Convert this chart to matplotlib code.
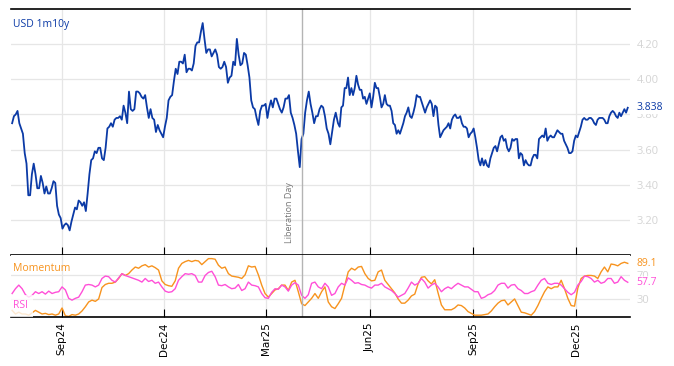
import matplotlib
matplotlib.use('Agg')
import matplotlib.pyplot as plt
import matplotlib.dates as mdates
import pandas as pd

plt.rcParams['font.family'] = ['Open Sans', 'DejaVu Sans']

# USD 1m10y swap rate (two stretches, split around early May 2025)
usd_a = [3.75, 3.79, 3.80, 3.82, 3.75, 3.72, 3.69, 3.58, 3.52, 3.34,
         3.34, 3.46, 3.52, 3.46, 3.38, 3.38, 3.45, 3.41, 3.35, 3.39,
         3.35, 3.35, 3.38, 3.42, 3.41, 3.28, 3.23, 3.21, 3.15, 3.17,
         3.18, 3.17, 3.14, 3.19, 3.23, 3.27, 3.26, 3.31, 3.30, 3.28,
         3.30, 3.25, 3.35, 3.46, 3.54, 3.55, 3.59, 3.58, 3.61, 3.61,
         3.55, 3.54, 3.61, 3.72, 3.73, 3.75, 3.73, 3.77, 3.78, 3.78,
         3.79, 3.77, 3.85, 3.81, 3.75, 3.93, 3.83, 3.82, 3.83, 3.93,
         3.93, 3.92, 3.90, 3.89, 3.91, 3.84, 3.78, 3.83, 3.78, 3.77,
         3.70, 3.74, 3.71, 3.69, 3.67, 3.73, 3.78, 3.88, 3.90, 3.91,
         3.99, 4.06, 4.03, 4.10, 4.10, 4.09, 4.14, 4.04, 4.06, 4.06,
         4.05, 4.09, 4.19, 4.21, 4.21, 4.27, 4.32, 4.23, 4.15, 4.17,
         4.17, 4.13, 4.15, 4.17, 4.14, 4.07, 4.06, 4.07, 4.10, 4.07,
         3.98, 4.01, 4.02, 4.10, 4.08, 4.23, 4.14, 4.08, 4.09, 4.15,
         4.14, 4.08, 4.01, 3.88, 3.84, 3.83, 3.78, 3.74, 3.82, 3.85,
         3.85, 3.86, 3.78, 3.84, 3.88, 3.84, 3.89, 3.89, 3.86, 3.83,
         3.81, 3.84, 3.89, 3.89, 3.91, 3.81, 3.78, 3.74, 3.69, 3.59,
         3.50, 3.66, 3.69, 3.81, 3.88, 3.93, 3.86, 3.81, 3.75, 3.79,
         3.79, 3.83, 3.85, 3.84, 3.79, 3.72, 3.69, 3.63, 3.70, 3.77,
         3.81]
usd_b = [3.75, 3.73, 3.84, 3.85, 3.95, 3.95, 4.01, 3.91, 3.95, 3.91,
         3.95, 4.02, 3.97, 3.94, 3.94, 3.89, 3.90, 3.86, 3.89, 3.92,
         3.84, 3.90, 3.98, 3.95, 3.95, 3.90, 3.84, 3.86, 3.91, 3.86,
         3.85, 3.85, 3.82, 3.75, 3.74, 3.69, 3.71, 3.69, 3.72, 3.75,
         3.79, 3.81, 3.84, 3.79, 3.78, 3.81, 3.85, 3.91, 3.90, 3.90,
         3.87, 3.84, 3.81, 3.84, 3.86, 3.88, 3.86, 3.79, 3.85, 3.84,
         3.74, 3.67, 3.69, 3.71, 3.72, 3.73, 3.75, 3.72, 3.77, 3.79,
         3.80, 3.78, 3.78, 3.79, 3.75, 3.73, 3.73, 3.72, 3.67, 3.69,
         3.70, 3.72, 3.67, 3.61, 3.54, 3.51, 3.55, 3.51, 3.54, 3.51,
         3.50, 3.55, 3.58, 3.61, 3.62, 3.59, 3.63, 3.67, 3.68, 3.65,
         3.66, 3.61, 3.59, 3.61, 3.66, 3.65, 3.66, 3.66, 3.55, 3.58,
         3.57, 3.51, 3.54, 3.52, 3.51, 3.51, 3.55, 3.57, 3.57, 3.55,
         3.66, 3.67, 3.68, 3.67, 3.72, 3.65, 3.67, 3.68, 3.67, 3.67,
         3.69, 3.71, 3.70, 3.69, 3.69, 3.65, 3.63, 3.61, 3.58, 3.58,
         3.59, 3.65, 3.68, 3.67, 3.70, 3.73, 3.77, 3.78, 3.77, 3.77,
         3.78, 3.78, 3.77, 3.75, 3.74, 3.77, 3.78, 3.78, 3.78, 3.77,
         3.75, 3.75, 3.79, 3.81, 3.82, 3.81, 3.79, 3.78, 3.81, 3.79,
         3.81, 3.83, 3.81, 3.838]

momentum = [11, 5, 8, 5, 5, 3, 7, 11, 8, 5, 6, 4, 5, 3, 5, 15, 2, 1, 4, 3,
            5, 10, 17, 25, 28, 26, 30, 49, 54, 56, 56, 58, 64, 72, 69, 72, 78, 83, 81, 85,
            87, 83, 85, 82, 78, 60, 54, 52, 51, 60, 81, 89, 92, 94, 92, 94, 93, 87, 92, 97,
            97, 96, 86, 81,
            83, 72, 68, 67, 66, 64, 70, 85, 83, 84, 70, 53, 39, 33, 39, 45, 47, 53, 53, 44,
            58, 61, 42, 22, 19, 25, 31, 39, 31, 42, 50, 25, 17, 14, 22, 31, 53, 75, 81, 78,
            83, 84, 72, 64, 60, 61, 75, 78, 61, 54, 47, 40, 30, 23, 23, 28, 35, 38, 55, 66,
            67, 60, 55,
            62, 40, 20, 12, 12, 12, 15, 20, 19, 15, 9, 6, 3, 3, 3, 4, 5, 10, 17, 23,
            27, 28, 20, 25, 30, 19, 8, 7, 5, 3, 9, 19, 31, 42, 50, 47, 50, 50, 61, 47,
            31, 19, 18, 48, 64, 68, 69, 69, 68, 64, 75, 83, 75, 88, 87, 85, 89, 91, 89.1]
rsi = [39, 47, 53, 47, 37, 33, 36, 42, 39, 42, 38, 43, 39, 41, 42, 50, 45, 31, 28, 31,
       33, 42, 53, 54, 53, 50, 53, 64, 68, 67, 61, 58, 65, 72, 69, 67, 65, 63, 61, 58,
       64, 59, 61, 56, 58, 50, 43, 41, 42, 47, 61, 67, 72, 71, 72, 69, 58, 58, 69, 74,
       76, 67, 53, 52,
       54, 50, 47, 48, 54, 44, 47, 58, 53, 52, 50, 39, 32, 31, 41, 47, 46, 53, 50, 43,
       53, 57, 53, 36, 31, 37, 56, 58, 50, 47, 56, 50, 36, 39, 50, 56, 53, 65, 61, 56,
       57, 54, 53, 50, 48, 53, 53, 56, 50, 47, 44, 39, 33, 36, 39, 48, 58, 53, 56, 64,
       58, 48, 53,
       56, 50, 42, 47, 50, 47, 52, 56, 53, 50, 50, 46, 42, 42, 31, 33, 37, 39, 44, 53,
       56, 56, 48, 53, 54, 47, 44, 39, 39, 42, 44, 53, 61, 64, 56, 54, 56, 56, 53, 47,
       41, 37, 41, 53, 59, 68, 67, 64, 58, 61, 56, 58, 64, 64, 56, 58, 67, 61, 57.7]

month_ticks = ['2024-09-01', '2024-12-01', '2025-03-01', '2025-06-01', '2025-09-01', '2025-12-01']
liberation_day = pd.Timestamp('2025-04-02')

blue = '#0b3aa6'
orange = '#f7931e'
pink = '#ff4fd8'
grid_c = '#e6e6e6'
lab_c = '#d4d4d4'

dates_a = pd.date_range('2024-07-19', '2025-05-02', periods=len(usd_a))
dates_b = pd.date_range('2025-05-04', '2026-01-16', periods=len(usd_b))
ind_dates = pd.date_range('2024-07-19', '2026-01-16', periods=len(rsi))

fig = plt.figure(figsize=(6.74, 3.66), dpi=100)
ax = fig.add_axes([11 / 674, 1 - 255 / 366, 619 / 674, 246 / 366])
ax2 = fig.add_axes([11 / 674, 1 - 317 / 366, 619 / 674, 62 / 366], sharex=ax)

# main panel
ax.plot(list(dates_a) + list(dates_b), usd_a + usd_b, color=blue, lw=1.3)
ax.set_ylim(3.0, 4.4)
ax.set_yticks([3.2, 3.4, 3.6, 3.8, 4.0, 4.2])
ax.yaxis.set_major_formatter(matplotlib.ticker.FormatStrFormatter('%.2f'))
ax.yaxis.tick_right()
ax.tick_params(axis='y', length=0, labelcolor=lab_c, labelsize=8, pad=5)
ax.tick_params(axis='x', direction='in', length=6, labelbottom=False)
ax.grid(True, color=grid_c, lw=0.9)
ax.set_axisbelow(True)
for s in ['left', 'right']:
    ax.spines[s].set_visible(False)
for s in ['top', 'bottom']:
    ax.spines[s].set_linewidth(1.2)
ax.text(0.003, 0.935, 'USD 1m10y', transform=ax.transAxes, color=blue,
        fontsize=7.5, va='center', ha='left')
ax.annotate('%.3f' % usd_b[-1], xy=(1, usd_b[-1]), xycoords=('axes fraction', 'data'),
            xytext=(4.5, 0), textcoords='offset points', color=blue, fontsize=7.5,
            va='center', ha='left',
            bbox=dict(boxstyle='square,pad=0.1', fc='white', ec='none'))

ax.axvline(liberation_day, color='#b4b4b4', lw=1)
ax.annotate('Liberation Day', xy=(liberation_day, 0.05), xycoords=('data', 'axes fraction'),
            xytext=(-6, 0), textcoords='offset points', rotation=90, fontsize=6.5,
            color='#777777', ha='right', va='bottom')

# indicator panel
ax2.plot(ind_dates, momentum, color=orange, lw=1)
ax2.plot(ind_dates, rsi, color=pink, lw=1)
ax2.axvline(liberation_day, color='#b4b4b4', lw=1)
ax2.set_ylim(0, 103)
ax2.set_yticks([30, 70])
ax2.yaxis.tick_right()
ax2.tick_params(axis='y', length=0, labelcolor=lab_c, labelsize=8, pad=5)
ax2.grid(True, color=grid_c, lw=0.9)
ax2.set_axisbelow(True)
for s in ['left', 'right', 'top']:
    ax2.spines[s].set_visible(False)
ax2.spines['bottom'].set_linewidth(1.2)

ax2.set_xticks(pd.to_datetime(month_ticks))
ax2.xaxis.set_major_formatter(mdates.DateFormatter('%b%y'))
ax2.tick_params(axis='x', direction='in', length=6, pad=4)
for lab in ax2.get_xticklabels():
    lab.set_rotation(90)
    lab.set_fontsize(7.5)
    lab.set_family('DejaVu Sans')
ax2.set_xlim(pd.Timestamp('2024-07-18'), pd.Timestamp('2026-01-18'))

ax2.text(0.003, 0.79, 'Momentum', transform=ax2.transAxes, color=orange,
         fontsize=7.5, va='center', ha='left')
ax2.text(0.003, 0.18, 'RSI', transform=ax2.transAxes, color=pink, fontsize=7.5,
         va='center', ha='left',
         bbox=dict(boxstyle='square,pad=0.5', fc='white', ec='none', alpha=0.8))
for val, col in [(momentum[-1], orange), (rsi[-1], pink)]:
    ax2.annotate('%.1f' % val, xy=(1, val), xycoords=('axes fraction', 'data'),
                 xytext=(4.5, 0), textcoords='offset points', color=col, fontsize=7.5,
                 va='center', ha='left',
                 bbox=dict(boxstyle='square,pad=0.1', fc='white', ec='none', alpha=0.7))

fig.savefig('out.png', dpi=100)
